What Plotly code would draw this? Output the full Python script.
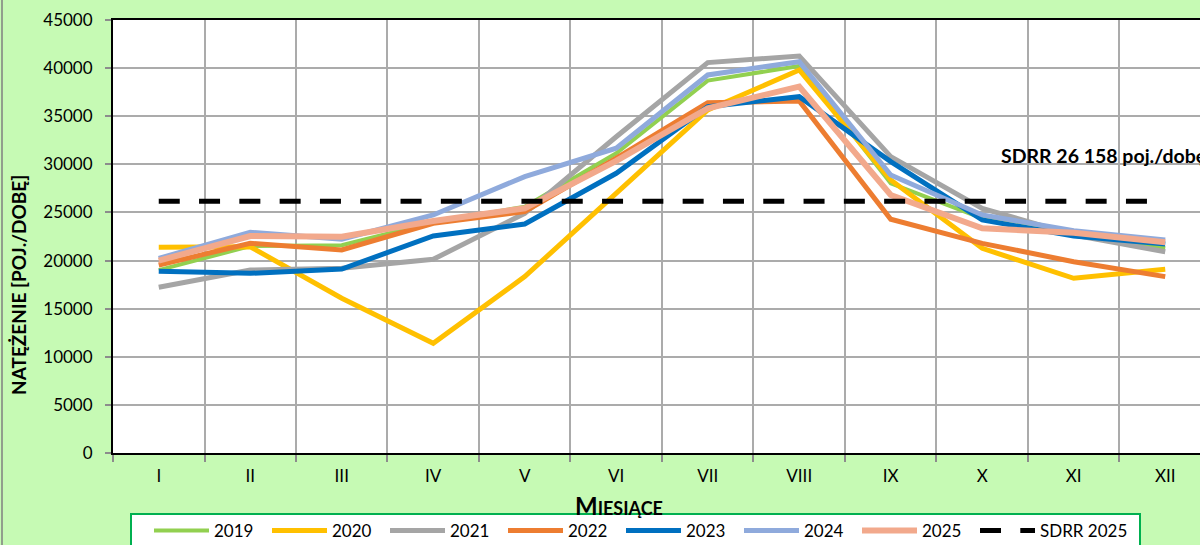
import plotly.graph_objects as go

months = ["I", "II", "III", "IV", "V", "VI", "VII", "VIII", "IX", "X", "XI", "XII"]

y2019 = [19000, 21500, 21600, 23990, 25600, 31150, 38700, 40220, 28030, 24390, 22900, 21270]
y2020 = [21380, 21440, 16080, 11400, 18330, 26990, 35650, 39810, 28370, 21270, 18160, 19090]
y2021 = [17220, 19020, 19200, 20130, 24910, 32870, 40570, 41260, 30800, 25430, 22660, 20920]
y2022 = [19540, 21790, 21100, 23870, 25080, 30630, 36410, 36580, 24290, 21790, 19880, 18330]
y2023 = [18880, 18670, 19120, 22550, 23800, 29070, 35990, 37030, 30280, 24220, 22550, 21720]
y2024 = [20230, 22940, 22210, 24740, 28720, 31670, 39290, 40670, 28890, 24740, 23100, 22140]
y2025 = [19990, 22550, 22480, 24110, 25430, 30350, 35820, 38070, 26810, 23350, 22900, 21900]
sdrr_value = 26158
sdrr = [sdrr_value] * 12

series = [
    ("2019", y2019, "#92D050", 4),
    ("2020", y2020, "#FFC000", 5),
    ("2021", y2021, "#A5A5A5", 5),
    ("2022", y2022, "#ED7D31", 5),
    ("2023", y2023, "#0070C0", 5),
    ("2024", y2024, "#8FAADC", 5),
    ("2025", y2025, "#F2A98C", 6),
]

FONT = "Lato, 'Open Sans', sans-serif"
BG = "#C6FAB4"

# pixel helpers (plot area: x 113..1200 visible, y 20..453)
PL, PR, PT, PB = 113, 1200, 20, 453
def px(x):
    return (x - PL) / (PR - PL)
def py(y):
    return (PB - y) / (PB - PT)

fig = go.Figure()
for name, vals, color, w in series:
    fig.add_trace(go.Scatter(x=months, y=vals, mode="lines", name=name,
                             line=dict(color=color, width=w), legend="legend"))
fig.add_trace(go.Scatter(x=months, y=sdrr, mode="lines", name="SDRR 2025",
                         line=dict(color="black", width=5, dash="21px,19.3px"),
                         legend="legend2"))

legend_common = dict(orientation="h", y=py(513), xanchor="left", yanchor="top",
                     bgcolor="rgba(0,0,0,0)", borderwidth=0,
                     font=dict(family=FONT, size=17, color="black"),
                     itemwidth=55, tracegroupgap=0)

fig.update_layout(
    width=1200, height=545,
    margin=dict(l=PL, r=0, t=PT, b=545 - PB, autoexpand=False),
    paper_bgcolor=BG, plot_bgcolor="white",
    font=dict(family=FONT, size=17, color="black"),
    showlegend=True,
    legend=dict(x=px(149), entrywidth=48, entrywidthmode="pixels", **legend_common),
    legend2=dict(x=px(149 + 7 * 118), **legend_common),
)

fig.update_xaxes(
    type="category", range=[-0.5, 11.38], tickson="boundaries",
    showgrid=True, gridcolor="#ABABAB", gridwidth=1.5,
    showline=True, linecolor="black", linewidth=2, mirror=True,
    ticks="outside", ticklen=7, tickcolor="#8C8C8C", tickwidth=1.5,
    tickfont=dict(family=FONT, size=17), ticklabelstandoff=7, fixedrange=True,
)
fig.update_yaxes(
    range=[0, 45000], dtick=5000, tickformat="d",
    showgrid=True, gridcolor="#ABABAB", gridwidth=1.5,
    showline=True, linecolor="black", linewidth=2,
    ticks="outside", ticklen=6, tickcolor="#8C8C8C", tickwidth=1.5,
    tickfont=dict(family=FONT, size=17), ticklabelstandoff=9, zeroline=False,
)

# legend frame
fig.add_shape(type="rect", xref="paper", yref="paper",
              x0=px(131), x1=px(1140), y0=py(514), y1=py(575),
              fillcolor="white", line=dict(color="#00B050", width=2), layer="above")
# outer chart border line at left
fig.add_shape(type="line", xref="paper", yref="paper",
              x0=px(2), x1=px(2), y0=-0.3, y1=1.1,
              line=dict(color="#7F7F7F", width=1.5))

fig.add_annotation(text="SDRR 26 158 poj./dobę", xref="paper", yref="y",
                   x=px(999), y=(453 - 155) * 45000 / 433,
                   xanchor="left", yanchor="middle", showarrow=False,
                   font=dict(family=FONT, size=19.5, color="black", weight="bold"))
fig.add_annotation(text="<b><span style='font-size:24px'>M</span>IESIĄCE</b>",
                   xref="paper", yref="paper", x=px(619), y=py(505),
                   xanchor="center", yanchor="middle", showarrow=False,
                   font=dict(family=FONT, size=18, color="black"))
fig.add_annotation(text="<b>NATĘŻENIE [POJ./DOBĘ]</b>", textangle=-90,
                   xref="paper", yref="paper", x=px(19), y=py(285),
                   xanchor="center", yanchor="middle", showarrow=False,
                   font=dict(family=FONT, size=19, color="black"))

fig.write_html("out.html", config={"displayModeBar": False},
               post_script="document.body.style.margin='0';document.body.style.background='%s';" % BG)
